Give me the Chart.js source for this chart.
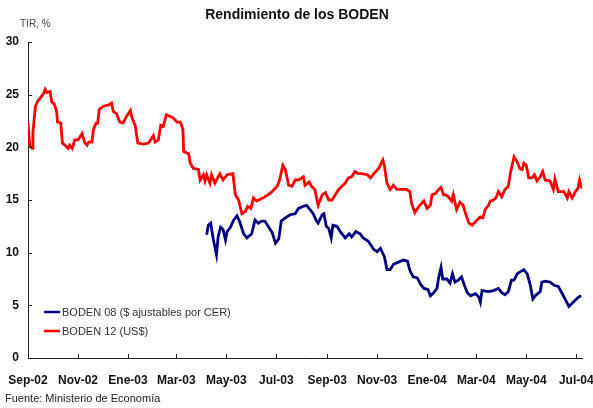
<!DOCTYPE html>
<html lang="es">
<head>
<meta charset="utf-8">
<title>Rendimiento de los BODEN</title>
<script src="https://cdn.jsdelivr.net/npm/chart.js@4.4.1/dist/chart.umd.min.js"></script>
<style>
  html, body { margin: 0; padding: 0; background: #fff; }
  #wrap { position: relative; width: 593px; height: 408px; }
</style>
</head>
<body>
<div id="wrap"><canvas id="chart-boden"></canvas></div>
<script>
// ─── Datos (días desde 01/09/2002, TIR en %) ──────────────────────────────────
const mesesDias   = [0, 61, 122, 181, 242, 303, 365, 426, 487, 547, 608, 669];
const mesesLabels = ['Sep-02','Nov-02','Ene-03','Mar-03','May-03','Jul-03',
                     'Sep-03','Nov-03','Ene-04','Mar-04','May-04','Jul-04'];
const yTicks      = [0, 5, 10, 15, 20, 25, 30];

const serieNombres = ['BODEN 08 ($ ajustables por CER)', 'BODEN 12 (US$)'];

const boden12Dias = [
  0, 2, 5, 6, 9, 12, 15, 19, 21, 23, 27, 29, 32, 35, 36, 40, 42, 45, 49, 51,
  54, 57, 61, 66, 69, 72, 74, 78, 80, 83, 85, 87, 92, 98, 102, 104, 108, 112, 116, 120,
  125, 127, 131, 134, 141, 147, 153, 155, 159, 162, 165, 169, 177, 182, 186, 189, 190, 196, 198, 202,
  208, 210, 214, 216, 218, 222, 224, 228, 234, 238, 243, 250, 253, 257, 261, 265, 268, 272, 275, 279,
  287, 293, 298, 304, 307, 311, 314, 318, 322, 326, 330, 336, 338, 343, 346, 350, 354, 359, 363, 367,
  371, 375, 379, 387, 391, 395, 399, 403, 407, 414, 418, 422, 428, 433, 435, 438, 442, 446, 450, 456,
  462, 466, 468, 472, 477, 483, 487, 491, 493, 497, 501, 504, 507, 509, 513, 517, 519, 523, 527, 531,
  534, 538, 542, 548, 552, 555, 558, 562, 564, 568, 571, 574, 578, 582, 586, 589, 593, 597, 600, 603,
  605, 608, 611, 615, 618, 621, 625, 628, 631, 637, 641, 643, 647, 654, 658, 660, 664, 668, 671, 673,
  675, 676
];
const boden12Tir = [
  22.4, 20.2, 19.9, 21.4, 23.9, 24.4, 24.7, 25.1, 25.5, 25.2, 25.3, 24.3, 24.1, 23.4, 22.4, 22.3, 20.4, 20.2, 19.9, 20.2,
  19.9, 20.7, 20.7, 21.3, 20.5, 20.2, 20.5, 20.5, 21.7, 22.3, 22.3, 23.6, 23.9, 24.0, 24.2, 23.4, 23.2, 22.4, 22.3, 22.9,
  23.5, 22.8, 22.0, 20.4, 20.3, 20.4, 21.1, 20.5, 20.7, 22.1, 22.0, 23.1, 22.8, 22.4, 22.4, 21.7, 19.6, 19.4, 18.5, 18.0,
  17.9, 16.9, 17.4, 16.8, 17.4, 16.6, 17.4, 16.6, 17.5, 16.9, 17.4, 17.5, 15.5, 15.0, 13.7, 13.9, 14.4, 14.2, 15.2, 14.9,
  15.2, 15.5, 15.8, 16.3, 16.9, 18.3, 17.9, 16.4, 16.3, 16.9, 16.9, 17.2, 16.4, 16.7, 16.3, 16.0, 14.5, 15.5, 15.7, 15.0,
  15.0, 15.5, 16.0, 16.6, 17.1, 17.2, 17.7, 17.5, 17.5, 17.4, 17.1, 17.5, 18.0, 18.8, 18.2, 16.6, 16.0, 16.4, 16.0, 16.0,
  16.0, 15.8, 14.7, 13.8, 14.4, 14.9, 14.2, 14.5, 15.5, 15.6, 16.0, 16.2, 15.5, 15.5, 15.3, 14.9, 15.5, 14.1, 14.8, 14.5,
  13.7, 12.8, 12.6, 13.1, 13.4, 13.3, 14.1, 14.5, 14.9, 15.0, 15.2, 15.8, 15.3, 16.0, 16.3, 17.7, 19.1, 18.6, 18.0, 17.9,
  18.5, 18.3, 17.1, 17.1, 17.4, 16.8, 17.2, 17.7, 16.9, 16.8, 16.0, 17.0, 15.8, 15.8, 15.2, 15.8, 15.2, 15.8, 16.1, 16.9,
  16.3, 16.1
];

const boden08Dias = [
  218, 220, 223, 226, 230, 232, 235, 238, 241, 243, 247, 251, 255, 258, 263, 267, 273, 277, 281, 285,
  289, 293, 298, 302, 306, 309, 314, 320, 326, 330, 336, 340, 343, 348, 352, 354, 359, 361, 364, 367,
  370, 372, 377, 381, 387, 392, 395, 400, 405, 409, 415, 422, 426, 430, 435, 438, 442, 446, 452, 458,
  463, 466, 470, 475, 479, 483, 488, 491, 495, 499, 501, 504, 506, 511, 515, 518, 521, 525, 529, 532,
  536, 540, 546, 550, 552, 554, 562, 568, 574, 578, 582, 586, 590, 593, 597, 601, 605, 609, 613, 616,
  620, 625, 627, 631, 637, 642, 647, 652, 656, 660, 664, 668, 672, 675
];
const boden08Tir = [
  11.7, 12.6, 12.8, 11.3, 9.8, 11.5, 12.4, 12.2, 11.2, 12.0, 12.4, 13.1, 13.5, 13.0, 11.8, 11.4, 11.8, 13.1, 12.8, 13.0,
  13.0, 12.5, 11.9, 10.9, 11.3, 13.0, 13.3, 13.6, 13.7, 14.2, 14.4, 14.5, 14.2, 13.7, 13.0, 12.8, 13.6, 13.7, 12.5, 12.3,
  11.4, 12.6, 12.5, 12.0, 11.4, 11.8, 11.5, 12.0, 11.8, 11.4, 11.1, 10.3, 10.1, 10.4, 9.6, 8.4, 8.4, 8.9, 9.1, 9.3,
  9.2, 8.3, 7.7, 7.6, 7.0, 6.6, 6.5, 5.9, 6.2, 6.6, 7.6, 8.6, 7.5, 7.5, 7.1, 8.0, 7.2, 7.4, 7.7, 7.0,
  6.2, 5.9, 6.1, 5.8, 5.3, 6.4, 6.3, 6.4, 6.6, 6.2, 6.0, 6.3, 7.4, 7.4, 8.0, 8.2, 8.4, 8.0, 6.9, 5.6,
  6.0, 6.3, 7.2, 7.3, 7.2, 6.9, 6.8, 6.1, 5.5, 4.9, 5.2, 5.5, 5.8, 5.9
];

const colAzul = '#000080';
const colRojo = '#ff0000';
const fuente  = "'Liberation Sans', Arial, sans-serif";

function toPoints(dias, vals) {
  return dias.map((d, i) => ({ x: d, y: vals[i] }));
}

// ─── Textos sueltos, leyenda interna y marcas de eje hacia adentro ────────────
const extrasPlugin = {
  id: 'extras',
  afterDraw(chart) {
    const ctx = chart.ctx;
    const { left, bottom } = chart.chartArea;
    const xs = chart.scales.x, ys = chart.scales.y;

    ctx.save();
    ctx.strokeStyle = '#222';
    ctx.lineWidth = 1;
    ctx.beginPath();
    mesesDias.forEach(d => {
      const px = Math.round(xs.getPixelForValue(d)) + 0.5;
      ctx.moveTo(px, bottom); ctx.lineTo(px, bottom - 4);
    });
    yTicks.forEach(v => {
      const py = Math.round(ys.getPixelForValue(v)) + 0.5;
      ctx.moveTo(left, py); ctx.lineTo(left + 4, py);
    });
    ctx.stroke();

    // título
    ctx.fillStyle = '#111';
    ctx.textAlign = 'center';
    ctx.textBaseline = 'middle';
    ctx.font = 'bold 14px ' + fuente;
    ctx.fillText('Rendimiento de los BODEN', 297, 15);

    ctx.textAlign = 'left';
    ctx.fillStyle = '#444';
    ctx.font = '10px ' + fuente;
    ctx.fillText('TIR, %', 20, 24);

    ctx.fillStyle = '#222';
    ctx.font = '11px ' + fuente;
    ctx.fillText('Fuente: Ministerio de Economía', 5, 399);

    // leyenda
    ctx.font = '11px ' + fuente;
    chart.data.datasets.forEach((ds, i) => {
      const y = 312 + i * 19;
      ctx.strokeStyle = ds.borderColor;
      ctx.lineWidth = 2.5;
      ctx.beginPath(); ctx.moveTo(44, y); ctx.lineTo(60, y); ctx.stroke();
      ctx.fillStyle = '#333';
      ctx.fillText(ds.label, 62, y + 1);
    });
    ctx.restore();
  }
};

new Chart(document.getElementById('chart-boden').getContext('2d'), {
  type: 'line',
  data: {
    datasets: [
      { label: serieNombres[0], data: toPoints(boden08Dias, boden08Tir),
        borderColor: colAzul, borderWidth: 2.8, pointRadius: 0, tension: 0 },
      { label: serieNombres[1], data: toPoints(boden12Dias, boden12Tir),
        borderColor: colRojo, borderWidth: 2.8, pointRadius: 0, tension: 0 },
    ]
  },
  options: {
    responsive: true, maintainAspectRatio: false, animation: false,
    layout: { padding: { top: 42, left: 0, right: 11, bottom: 0 } },
    plugins: { legend: { display: false }, tooltip: { enabled: false } },
    scales: {
      x: {
        type: 'linear', min: 0, max: 676,
        afterBuildTicks: s => { s.ticks = mesesDias.map(v => ({ value: v })); },
        afterFit: s => { s.height = 50; s.paddingLeft = 0; s.paddingRight = 0; },
        ticks: {
          autoSkip: false, maxRotation: 0, padding: 15, color: '#111',
          font: { family: fuente, size: 12, weight: 'bold' },
          callback: v => mesesLabels[mesesDias.indexOf(v)] || ''
        },
        grid: { drawOnChartArea: false, drawTicks: false },
        border: { display: true, color: '#222', width: 1 }
      },
      y: {
        min: 0, max: 30,
        afterBuildTicks: s => { s.ticks = yTicks.map(v => ({ value: v })); },
        afterFit: s => { s.width = 28; },
        ticks: {
          padding: 9, color: '#111',
          font: { family: fuente, size: 12, weight: 'bold' }
        },
        grid: { drawOnChartArea: false, drawTicks: false },
        border: { display: true, color: '#222', width: 1 }
      }
    }
  },
  plugins: [extrasPlugin]
});
</script>
</body>
</html>
